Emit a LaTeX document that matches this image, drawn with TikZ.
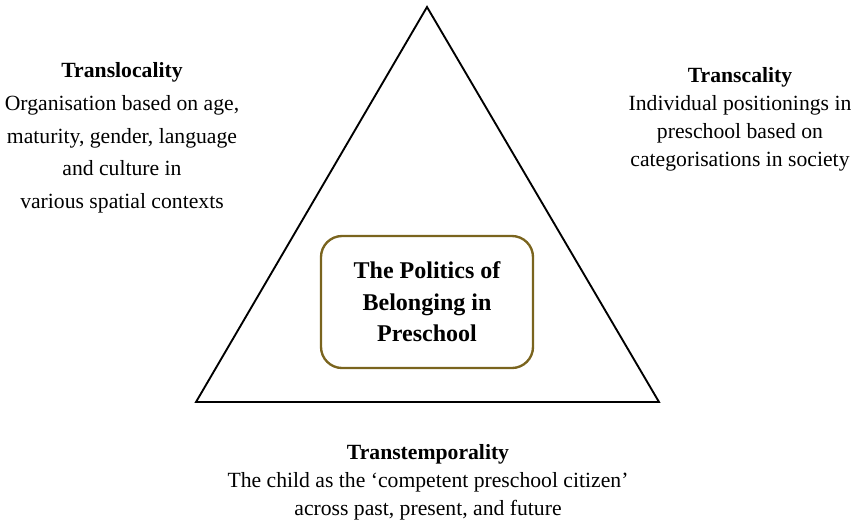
\documentclass[tikz,border=0pt]{standalone}
\usepackage{fontspec}
\setmainfont{Liberation Serif}
\definecolor{boxolive}{RGB}{122,100,30}
\begin{document}
\begin{tikzpicture}[x=0.03cm, y=-0.03cm, thick,
    label text/.style={align=center, font=\fontsize{18.5}{23.8}\selectfont, inner sep=0pt},
    centre box/.style={draw=boxolive, line width=2pt, rounded corners=18pt, minimum width=212*0.03cm, minimum height=132*0.03cm, align=center, font=\fontsize{20.5}{27}\selectfont\bfseries}]
    \useasboundingbox (0,0) rectangle (853,519);

    % Triangle corners
    \coordinate (apex) at (427,7);
    \coordinate (left) at (196,402);
    \coordinate (right) at (659,402);
    \draw[line width=1.6pt, line join=miter] (apex) -- (right) -- (left) -- cycle;

    % Centre box
    \node[centre box] (politics) at (427,302) {The Politics of\\Belonging in\\Preschool};

    % Side labels
    \node[label text, anchor=north, font=\fontsize{18.5}{28}\selectfont] (loc) at (122,62) {\textbf{Translocality}\\Organisation based on age,\\maturity, gender, language\\and culture in\\various spatial contexts};
    \node[label text, anchor=north] (cal) at (740,67) {\textbf{Transcality}\\Individual positionings in\\preschool based on\\categorisations in society};
    \node[label text, anchor=north] (temp) at (428,444) {\textbf{Transtemporality}\\The child as the `competent preschool citizen'\\across past, present, and future};
\end{tikzpicture}
\end{document}
